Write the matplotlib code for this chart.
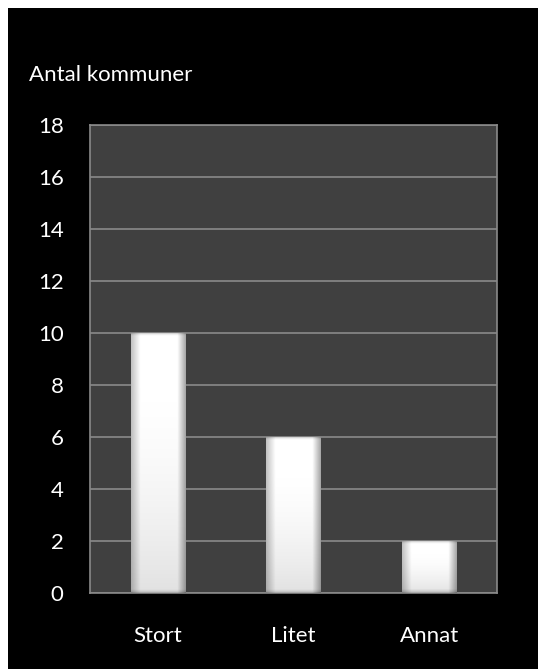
import numpy as np
import matplotlib.pyplot as plt

categories = ['Stort', 'Litet', 'Annat']
values = [10, 6, 2]
yticks = [0, 2, 4, 6, 8, 10, 12, 14, 16, 18]

W, H = 538, 669
fig = plt.figure(figsize=(W/100, H/100), dpi=100, facecolor='white')

# black panel (white strip left/top)
bg = fig.add_axes([8/W, 0, 1 - 8/W, 1 - 8/H])
bg.set_facecolor('black')
bg.set_xticks([]); bg.set_yticks([])
for s in bg.spines.values():
    s.set_visible(False)

left, right, top, bottom = 90, 497, 125, 593
ax = fig.add_axes([left/W, 1 - bottom/H, (right-left)/W, (bottom-top)/H])
ax.set_facecolor('#404040')
ax.set_xlim(-0.5, 2.5)
ax.set_ylim(0, 18)
ax.set_yticks(yticks)
ax.yaxis.grid(True, color='#8a8a8a', linewidth=1.2)
ax.set_axisbelow(True)
for s in ax.spines.values():
    s.set_color('#8a8a8a')
    s.set_linewidth(1.2)

fs = 16
font = 'Lato'
ax.set_xticks(range(len(categories)))
ax.set_xticklabels(categories, fontsize=fs, color='white', family=font)
ax.set_yticklabels([str(v) for v in yticks], fontsize=fs, color='white', family=font)
ax.tick_params(length=0)
ax.tick_params(axis='x', pad=24)
ax.tick_params(axis='y', pad=19)

# bevelled white bars, gradient built in pixel units
bw = 0.4
px_per_unit = (bottom - top) / 18.0
bars = ax.bar(range(len(categories)), values, width=bw, color='none', edgecolor='none')
for b in bars:
    x0, w, h = b.get_x(), b.get_width(), b.get_height()
    nx = 54
    ny = max(int(round(h * px_per_unit)), 10)
    xx = np.arange(nx)
    hor = np.ones(nx)
    hor = np.minimum(hor, 0.76 + 0.24 * np.clip(xx / 9.0, 0, 1))
    hor = np.minimum(hor, 0.66 + 0.34 * np.clip((nx - 1 - xx) / 8.0, 0, 1))
    yy = np.arange(ny)
    ver = 0.97 - 0.12 * (yy / ny) ** 2
    ver[:3] = [0.8, 0.9, 0.95]
    ver[-4:] = np.minimum(ver[-4:], [0.84, 0.8, 0.75, 0.65])
    g = np.clip(hor[None, :] * ver[:, None] * 1.04, 0, 1)
    rgb = np.dstack([g, g, g])
    im = ax.imshow(rgb, extent=[x0, x0 + w, 0, h], origin='upper', aspect='auto', zorder=3,
                   interpolation='bilinear')
    im.set_clip_path(b)
ax.set_xlim(-0.5, 2.5)
ax.set_ylim(0, 18)

fig.text(29/W, 1 - 75/H, 'Antal kommuner', fontsize=fs, color='white', family=font, va='center', ha='left')

fig.savefig('out.png', dpi=100, facecolor=fig.get_facecolor())
